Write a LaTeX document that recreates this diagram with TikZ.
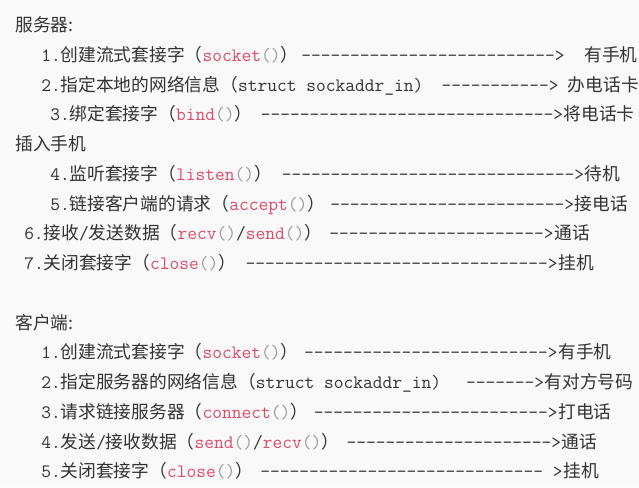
\documentclass[tikz,border=0pt]{standalone}
\usepackage{fontspec}
\setmonofont{Latin Modern Mono}
\newfontfamily\zhfont[Scale=0.937]{Noto Sans CJK SC}
\definecolor{txt}{HTML}{333333}
\definecolor{fncol}{HTML}{DD4A68}
\definecolor{punc}{HTML}{999999}
\definecolor{bg}{HTML}{F9F9F9}
\newcommand\zh[1]{{\zhfont#1}}
\newcommand\callfn[1]{\textcolor{fncol}{#1}\textcolor{punc}{()}}
\newcommand\dashes[1]{\foreach\k in {1,...,#1}{-}}
\tikzset{
  txtline/.style={anchor=base west,inner sep=0pt,text=txt,font=\ttfamily\fontsize{14.2}{16}\selectfont},
  dashrun/.style={txtline,anchor=base east}
}

\begin{document}
\begin{tikzpicture}[x=0.75pt,y=-0.75pt]
\useasboundingbox (0,0) rectangle (639,487);
\path[fill=bg] (0,0) rectangle (639,487);
% server side
\node[txtline] (srv) at (15,31.5) {\zh{服务器:}};
\node[txtline] (s1) at (41,61.25) {1.\zh{创建流式套接字（}\callfn{socket}\zh{）}};
\node[dashrun] (s1d) at (565,61.25) {\dashes{26}>};
\node[txtline] (s1r) at ([xshift=14.4pt]s1d.base east) {\zh{有手机}};
\node[txtline] (s2) at (41,91) {2.\zh{指定本地的网络信息（}struct sockaddr\_in)};
\node[dashrun] (s2d) at (559,91) {\dashes{11}>};
\node[txtline] (s2r) at ([xshift=6.5pt]s2d.base east) {\zh{办电话卡}};
\node[txtline] (s3) at (50,120.75) {3.\zh{绑定套接字（}\callfn{bind}\zh{）}};
\node[dashrun] (s3d) at (563.5,120.75) {\dashes{30}>};
\node[txtline] (s3r) at (s3d.base east) {\zh{将电话卡}};
\node[txtline] (srv2) at (15,150.5) {\zh{插入手机}};
\node[txtline] (s4) at (50,180.25) {4.\zh{监听套接字（}\callfn{listen}\zh{）}};
\node[dashrun] (s4d) at (584.5,180.25) {\dashes{30}>};
\node[txtline] (s4r) at (s4d.base east) {\zh{待机}};
\node[txtline] (s5) at (50,210) {5.\zh{链接客户端的请求（}\callfn{accept}\zh{）}};
\node[dashrun] (s5d) at (574.5,210) {\dashes{24}>};
\node[txtline] (s5r) at (s5d.base east) {\zh{接电话}};
\node[txtline] (s6) at (24,239.75) {6.\zh{接收}/\zh{发送数据（}\callfn{recv}/\callfn{send}\zh{）}};
\node[dashrun] (s6d) at (554,239.75) {\dashes{22}>};
\node[txtline] (s6r) at (s6d.base east) {\zh{通话}};
\node[txtline] (s7) at (24,269.5) {7.\zh{关闭套接字（}\callfn{close}\zh{）}};
\node[dashrun] (s7d) at (558,269.5) {\dashes{31}>};
\node[txtline] (s7r) at (s7d.base east) {\zh{挂机}};
% client side
\node[txtline] (cli) at (15,329) {\zh{客户端:}};
\node[txtline] (c1) at (41,358.75) {1.\zh{创建流式套接字（}\callfn{socket}\zh{）}};
\node[dashrun] (c1d) at (558,358.75) {\dashes{25}>};
\node[txtline] (c1r) at (c1d.base east) {\zh{有手机}};
\node[txtline] (c2) at (41,388.5) {2.\zh{指定服务器的网络信息（}struct sockaddr\_in)};
\node[dashrun] (c2d) at (544.5,388.5) {\dashes{7}>};
\node[txtline] (c2r) at (c2d.base east) {\zh{有对方号码}};
\node[txtline] (c3) at (41,418.25) {3.\zh{请求链接服务器（}\callfn{connect}\zh{）}};
\node[dashrun] (c3d) at (558,418.25) {\dashes{24}>};
\node[txtline] (c3r) at (c3d.base east) {\zh{打电话}};
\node[txtline] (c4) at (41,448) {4.\zh{发送}/\zh{接收数据（}\callfn{send}/\callfn{recv}\zh{）}};
\node[dashrun] (c4d) at (561.5,448) {\dashes{21}>};
\node[txtline] (c4r) at (c4d.base east) {\zh{通话}};
\node[txtline] (c5) at (41,477.75) {5.\zh{关闭套接字（}\callfn{close}\zh{）}};
\node[dashrun] (c5d) at (563,477.75) {\dashes{29} >};
\node[txtline] (c5r) at (c5d.base east) {\zh{挂机}};
\end{tikzpicture}
\end{document}
